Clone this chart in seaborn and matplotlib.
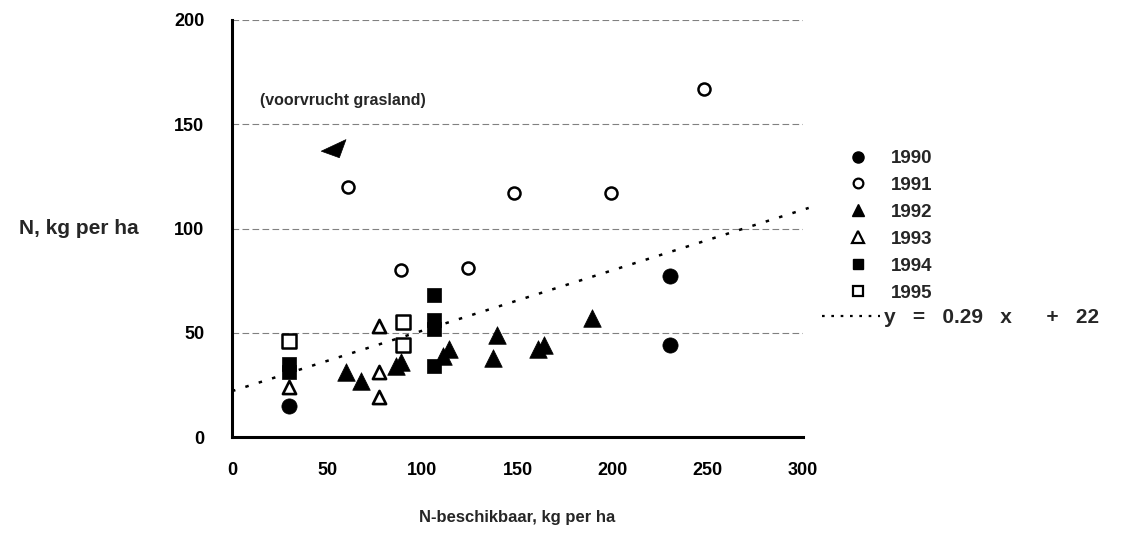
import matplotlib
matplotlib.use("Agg")
import matplotlib.pyplot as plt
import seaborn as sns
import numpy as np
from matplotlib.lines import Line2D
from matplotlib.path import Path

# ---------------- data ----------------
x_1990 = [30, 230, 230]
y_1990 = [15, 77, 44]
x_1991 = [61, 89, 124, 148, 199, 248]
y_1991 = [120, 80, 81, 117, 117, 167]
x_1992 = [60, 68, 86, 89, 111, 114, 137, 139, 161, 164, 189]
y_1992 = [31, 27, 34, 36, 39, 42, 38, 49, 42, 44, 57]
x_1993 = [30, 77, 77, 77]
y_1993 = [24, 53, 31, 19]
x_1994 = [30, 30, 106, 106, 106, 106]
y_1994 = [35, 31, 68, 56, 52, 34]
x_1995 = [30, 90, 90]
y_1995 = [46, 55, 44]

slope = 0.29
intercept = 22
fit_x = [0, 303]

arrow_x = [54]
arrow_y = [138]

x_ticks = [0, 50, 100, 150, 200, 250, 300]
y_ticks = [0, 50, 100, 150, 200]

years = ["1990", "1991", "1992", "1993", "1994", "1995"]
x_label = "N-beschikbaar, kg per ha"
y_label = "N, kg per ha"
note_text = "(voorvrucht grasland)"
eq_label = "y   =   0.29   x      +   22"

# ---------------- style ----------------
sns.set_theme(style="white")
plt.rcParams["font.family"] = ["Liberation Sans", "DejaVu Sans"]
plt.rcParams["font.weight"] = "bold"

W, H = 1136, 539
fig = plt.figure(figsize=(W / 100, H / 100), dpi=100)
ax = fig.add_axes([232 / W, 1 - 437 / H, 571 / W, 417 / H])

# grid lines
for yv in y_ticks[1:]:
    ax.axhline(yv, color="0.5", lw=0.8, ls=(0, (6, 3)), zorder=0)

series = [
    (x_1990, y_1990, "o", "black", 120, 0.5),
    (x_1991, y_1991, "o", "white", 75, 1.8),
    (x_1992, y_1992, "^", "black", 160, 0.5),
    (x_1993, y_1993, "^", "white", 90, 1.9),
    (x_1994, y_1994, "s", "black", 100, 0.5),
    (x_1995, y_1995, "s", "white", 88, 1.8),
]
for xs, ys, mk, fc, s, lw in series:
    sns.scatterplot(x=xs, y=ys, marker=mk, s=s, color=fc, edgecolor="black",
                    linewidth=lw, ax=ax, zorder=3, clip_on=False, legend=False)

# regression line
fx = np.array(fit_x, dtype=float)
sns.lineplot(x=fx, y=slope * fx + intercept, ax=ax, color="black", lw=1.8,
             linestyle=(0, (1.4, 4.2)), zorder=2, legend=False)
ax.lines[-1].set_clip_on(False)

# arrow-like marker
arrow_marker = Path([(-14.4, -1.7), (10.6, 10.0), (3.9, -8.3), (-14.4, -1.7)],
                    [Path.MOVETO, Path.LINETO, Path.LINETO, Path.CLOSEPOLY])
sns.scatterplot(x=arrow_x, y=arrow_y, marker=arrow_marker, s=420, color="black",
                edgecolor="black", linewidth=0.5, ax=ax, zorder=3, legend=False)

ax.text(14.5, 161.5, note_text, fontsize=11.5, fontweight="bold",
        ha="left", va="center")

# axes
ax.set_xlim(0, 300)
ax.set_ylim(0, 200)
ax.set_xticks(x_ticks)
ax.set_yticks(y_ticks)
ax.set_xticklabels([str(v) for v in x_ticks], fontsize=13, fontweight="bold")
ax.set_yticklabels([str(v) for v in y_ticks], fontsize=13, fontweight="bold")
for side in ["top", "right"]:
    ax.spines[side].set_visible(False)
for side in ["left", "bottom"]:
    ax.spines[side].set_linewidth(2.2)
    ax.spines[side].set_color("black")
ax.tick_params(axis="x", direction="out", length=5, width=2.2, pad=13, colors="black")
ax.tick_params(axis="y", direction="out", length=3, width=2.0, pad=17, colors="black")

ax.set_xlabel(x_label, fontsize=12, fontweight="bold")
ax.xaxis.set_label_coords(0.5, -0.175)
ax.set_ylabel(y_label, fontsize=15, fontweight="bold", rotation=0,
              ha="center", va="center")
ax.yaxis.set_label_coords(-0.268, 0.5)

# legend: year markers
handles = [
    Line2D([], [], ls="none", marker="o", ms=8, mfc="black", mec="black"),
    Line2D([], [], ls="none", marker="o", ms=7, mfc="white", mec="black", mew=1.6),
    Line2D([], [], ls="none", marker="^", ms=9, mfc="black", mec="black"),
    Line2D([], [], ls="none", marker="^", ms=8, mfc="white", mec="black", mew=1.6),
    Line2D([], [], ls="none", marker="s", ms=7.5, mfc="black", mec="black"),
    Line2D([], [], ls="none", marker="s", ms=7, mfc="white", mec="black", mew=1.6),
]
fig.legend(handles, years, loc="upper left",
           bbox_to_anchor=(849 / W, 1 - 150 / H),
           frameon=False, prop={"weight": "bold", "size": 13.5},
           handlelength=1.0, handletextpad=1.25, labelspacing=0.52,
           borderpad=0, borderaxespad=0)

# legend: regression line
eq_handle = [Line2D([], [], color="black", lw=1.6, ls=(0, (1.2, 3.0)))]
fig.legend(eq_handle, [eq_label], loc="upper left",
           bbox_to_anchor=(822 / W, 1 - 308 / H),
           frameon=False, prop={"weight": "bold", "size": 15},
           handlelength=2.8, handletextpad=0.2,
           borderpad=0, borderaxespad=0)

fig.savefig("out.png", dpi=100)
